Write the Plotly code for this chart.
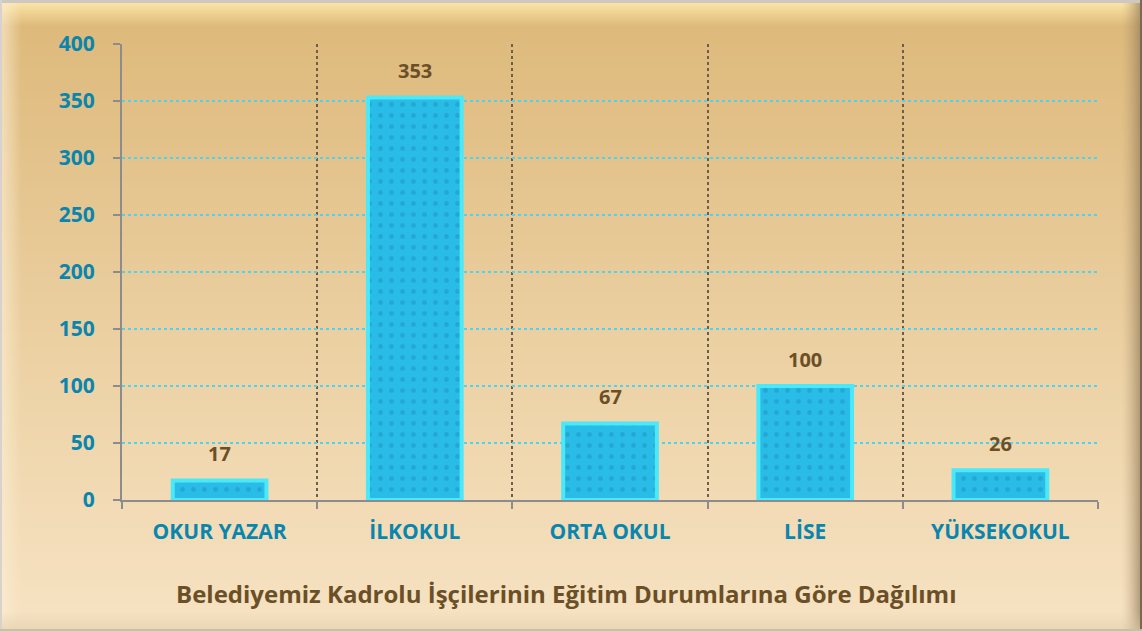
import base64, struct, zlib
import numpy as np
import plotly.graph_objects as go

categories = ["OKUR YAZAR", "İLKOKUL", "ORTA OKUL", "LİSE", "YÜKSEKOKUL"]
values = [17, 353, 67, 100, 26]
y_ticks = [0, 50, 100, 150, 200, 250, 300, 350, 400]
title_text = "Belediyemiz Kadrolu İşçilerinin Eğitim Durumlarına Göre Dağılımı"

W, H = 1142, 631


def make_bg():
    yy = np.arange(H)[:, None].astype(float)
    xx = np.arange(W)[None, :].astype(float)
    t = yy / (H - 1)
    top = np.array([221, 184, 121], float)
    mid = np.array([236, 209, 163], float)
    bot = np.array([247, 227, 196], float)
    tt = np.broadcast_to(t, (H, W))[..., None]
    a = np.clip(tt / 0.55, 0, 1)
    b = np.clip((tt - 0.55) / 0.45, 0, 1)
    img = np.where(tt < 0.55, top + (mid - top) * a, mid + (bot - mid) * b)

    def blend(mask_w, col):
        nonlocal img
        w = mask_w[..., None]
        img = img * (1 - w) + np.array(col, float) * w

    wt = np.clip(1 - (yy - 4) / 22, 0, 1) * 0.85 * np.ones((1, W))
    blend(wt, (254, 234, 170))
    wl = np.clip(1 - (xx - 3) / 18, 0, 1) * 0.6 * np.ones((H, 1))
    blend(wl, (252, 238, 210))
    wr = np.clip((xx - (W - 22)) / 20, 0, 1) ** 1.5 * 0.7 * np.ones((H, 1))
    blend(wr, (150, 125, 92))
    wb = np.clip((yy - (H - 20)) / 18, 0, 1) * 0.5 * np.ones((1, W))
    blend(wb, (222, 200, 165))
    img[0:3, :, :] = (205, 200, 195)
    img[:, 0:2, :] = (215, 210, 205)
    img[:, W - 2:, :] = (120, 105, 85)
    img[H - 2:, :, :] = (200, 190, 170)
    arr = np.clip(img, 0, 255).astype(np.uint8)
    raw = b"".join(b"\x00" + arr[r].tobytes() for r in range(H))

    def chunk(tag, data):
        c = struct.pack(">I", len(data)) + tag + data
        return c + struct.pack(">I", zlib.crc32(tag + data) & 0xFFFFFFFF)

    png = b"\x89PNG\r\n\x1a\n" + chunk(b"IHDR", struct.pack(">IIBBBBB", W, H, 8, 2, 0, 0, 0)) \
        + chunk(b"IDAT", zlib.compress(raw, 9)) + chunk(b"IEND", b"")
    return "data:image/png;base64," + base64.b64encode(png).decode()


TFONT = "'Open Sans', Lato, sans-serif"
TEAL = "#0a85ad"
BROWN = "#6b4f27"

fig = go.Figure()
fig.add_trace(go.Bar(
    x=categories, y=values,
    marker=dict(
        color="#29bce6",
        line=dict(color="#4ae8f9", width=4),
        pattern=dict(shape=".", fgcolor="#1b93bf", size=11, solidity=0.15),
    ),
    hoverinfo="x+y",
))

for c, v in zip(categories, values):
    fig.add_annotation(x=c, y=v, text=f"<b>{v}</b>", showarrow=False, yshift=27,
                       font=dict(family=TFONT, size=20, color=BROWN))

fig.add_annotation(xref="paper", yref="paper", x=0.496, y=1 - 593 / H, yanchor="middle",
                   text=f"<b>{title_text}</b>",
                   showarrow=False, font=dict(family=TFONT, size=24, color=BROWN))

fig.update_layout(
    width=W, height=H,
    margin=dict(l=0, r=0, t=0, b=0),
    paper_bgcolor="#ecd2a5",
    plot_bgcolor="rgba(0,0,0,0)",
    bargap=0.52,
    showlegend=False,
    font=dict(family=TFONT),
    images=[dict(source=make_bg(), xref="paper", yref="paper", x=0, y=1, sizex=1, sizey=1,
                 sizing="stretch", xanchor="left", yanchor="top", layer="below")],
    xaxis=dict(
        domain=[122 / W, 1098 / W], type="category", tickson="boundaries",
        showgrid=True, gridcolor="#6e5d48", griddash="dot", gridwidth=2,
        showline=True, linecolor="#8c8c8c", linewidth=2,
        ticks="outside", ticklen=7, tickcolor="#8c8c8c", tickwidth=2,
        tickfont=dict(family=TFONT, size=21, color=TEAL, weight="bold"),
        ticklabelstandoff=12, automargin=False, fixedrange=True,
    ),
    yaxis=dict(
        domain=[1 - 500 / H, 1 - 44 / H], range=[0, 400], tickvals=y_ticks,
        showgrid=True, gridcolor="#4cd2f2", griddash="dot", gridwidth=2,
        zeroline=False, showline=True, linecolor="#8c8c8c", linewidth=2,
        ticks="outside", ticklen=7, tickcolor="#8c8c8c", tickwidth=2,
        tickfont=dict(family=TFONT, size=21, color=TEAL, weight="bold"),
        ticklabelstandoff=14, automargin=False, fixedrange=True,
    ),
)

fig.write_html("out.html", config={"displayModeBar": False},
               post_script="document.body.style.margin='0';")
